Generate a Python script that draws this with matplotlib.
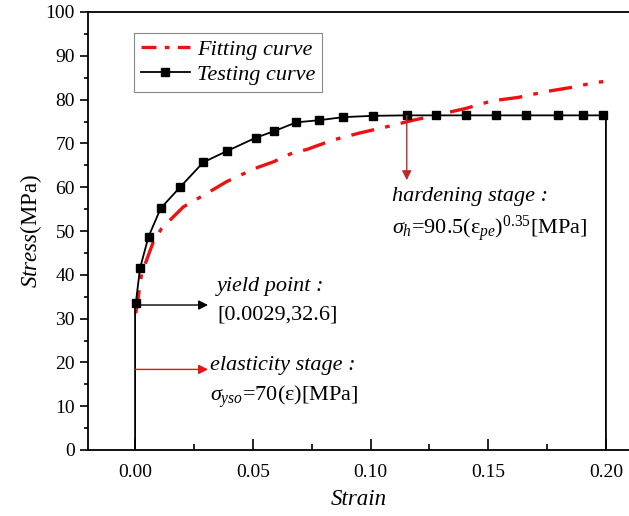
import matplotlib
matplotlib.use("Agg")
import matplotlib.pyplot as plt
from matplotlib.ticker import MultipleLocator
from matplotlib.lines import Line2D

plt.rcParams['font.family'] = ['Liberation Serif', 'DejaVu Serif']
plt.rcParams['mathtext.fontset'] = 'custom'
plt.rcParams['mathtext.rm'] = 'Liberation Serif'
plt.rcParams['mathtext.it'] = 'Liberation Serif:italic'
plt.rcParams['mathtext.bf'] = 'Liberation Serif:bold'

# Testing curve (markers)
test_x = [0.0003, 0.0021, 0.0057, 0.0109, 0.0191, 0.0290, 0.0392, 0.0513, 0.0591,
          0.0684, 0.0783, 0.0885, 0.1012, 0.1154, 0.1277, 0.1406, 0.1532, 0.1660,
          0.1796, 0.1902, 0.1986]
test_y = [33.5, 41.5, 48.7, 55.2, 60.0, 65.7, 68.3, 71.3, 72.8,
          74.8, 75.3, 76.0, 76.3, 76.4, 76.4, 76.4, 76.4, 76.4,
          76.4, 76.4, 76.4]
# Elastic start and unloading end of testing curve
start_x = [0.0, 0.0]
start_y = [0.0, 33.5]
end_x = [0.2, 0.2]
end_y = [76.4, 0.0]

# Fitting curve
fit_x = [0.0003, 0.0028, 0.0078, 0.0113, 0.0205, 0.0305, 0.0390, 0.0510, 0.0588,
         0.0672, 0.0729, 0.0842, 0.0956, 0.1069, 0.1182, 0.1267, 0.1324, 0.1406,
         0.1515, 0.1628, 0.1742, 0.1855, 0.1954, 0.1989]
fit_y = [31.2, 40.3, 47.6, 50.6, 55.5, 58.6, 61.3, 64.3, 65.8,
         67.9, 68.6, 70.8, 72.4, 73.8, 75.3, 76.3, 77.0, 78.0,
         79.7, 80.5, 81.8, 82.8, 83.9, 84.1]

FIT_LS = (0, (7.0, 3.4, 1.4, 3.4))

fig = plt.figure(figsize=(6.29, 5.16), dpi=100)
ax = fig.add_axes([88/629, 66/516, 1 - 88/629, (450-12)/516])

ax.plot(fit_x, fit_y, color='#ee1111', lw=2.4, linestyle=FIT_LS, zorder=2)
tx = start_x + test_x + end_x
ty = start_y + test_y + end_y
ax.plot(tx, ty, color='black', lw=1.3, zorder=3)
ax.plot(test_x, test_y, color='black', marker='s', markersize=6,
        linestyle='None', zorder=3)

h_fit = Line2D([], [], color='#ee1111', lw=2.4, linestyle=(0, (4.5, 2.5, 1.4, 2.5)))
h_test = Line2D([], [], color='black', lw=1.3, marker='s', markersize=6)
leg = ax.legend([h_fit, h_test], ['Fitting curve', 'Testing curve'],
                loc='upper left', bbox_to_anchor=(0.085, 0.952), borderaxespad=0,
                prop={'style': 'italic', 'size': 16}, fancybox=False,
                edgecolor='#888888', framealpha=1, handlelength=2.2,
                handletextpad=0.35, borderpad=0.3, labelspacing=0.2)
leg.get_frame().set_linewidth(0.8)

ax.set_xlim(-0.02, 0.2098)
ax.set_ylim(0, 100)
ax.xaxis.set_major_locator(MultipleLocator(0.05))
ax.xaxis.set_minor_locator(MultipleLocator(0.025))
ax.yaxis.set_major_locator(MultipleLocator(10))
ax.yaxis.set_minor_locator(MultipleLocator(5))
ax.set_xticks([0.0, 0.05, 0.10, 0.15, 0.20])
ax.set_xticklabels(['0.00', '0.05', '0.10', '0.15', '0.20'])
ax.tick_params(axis='x', which='major', direction='in', length=8, width=1.2,
               labelsize=14, pad=10)
ax.tick_params(axis='x', which='minor', direction='in', length=4, width=1.2)
ax.tick_params(axis='y', which='major', direction='out', length=6, width=1.2,
               labelsize=14)
ax.tick_params(axis='y', which='minor', direction='out', length=3, width=1.2)
for s in ['left', 'bottom', 'top']:
    ax.spines[s].set_linewidth(1.3)
ax.spines['right'].set_visible(False)

ax.set_xlabel('Strain', fontsize=16.5, style='italic', labelpad=6)
ax.set_ylabel(r'$\mathit{Stress}$(MPa)', fontsize=16.5, labelpad=1)

# annotations
ax.annotate('', xy=(0.1154, 61.6), xytext=(0.1154, 76.4),
            arrowprops=dict(arrowstyle='-|>', color='#c0282a', lw=1.0,
                            mutation_scale=14, shrinkA=0, shrinkB=0))
ax.text(0.1093, 57.8, 'hardening stage :', fontsize=16, style='italic',
        va='center', ha='left')
ax.text(0.1093, 50.5, r'$\sigma_{h}$=90.5(ε$_{pe}$)$^{0.35}$[MPa]', fontsize=16,
        va='center', ha='left')

ax.annotate('', xy=(0.031, 33.1), xytext=(0.0, 33.1),
            arrowprops=dict(arrowstyle='-|>', color='black', lw=1.0,
                            mutation_scale=14, shrinkA=0, shrinkB=0))
ax.text(0.0348, 37.3, 'yield point :', fontsize=16, style='italic',
        va='center', ha='left')
ax.text(0.0348, 30.8, '[0.0029,32.6]', fontsize=16, va='center', ha='left')

ax.annotate('', xy=(0.031, 18.4), xytext=(0.0, 18.4),
            arrowprops=dict(arrowstyle='-|>', color='#ee1111', lw=1.0,
                            mutation_scale=14, shrinkA=0, shrinkB=0))
ax.text(0.032, 19.4, 'elasticity stage :', fontsize=16, style='italic',
        va='center', ha='left')
ax.text(0.032, 12.2, r'$\sigma_{yso}$=70(ε)[MPa]', fontsize=16,
        va='center', ha='left')

fig.savefig('out.png', dpi=100)
